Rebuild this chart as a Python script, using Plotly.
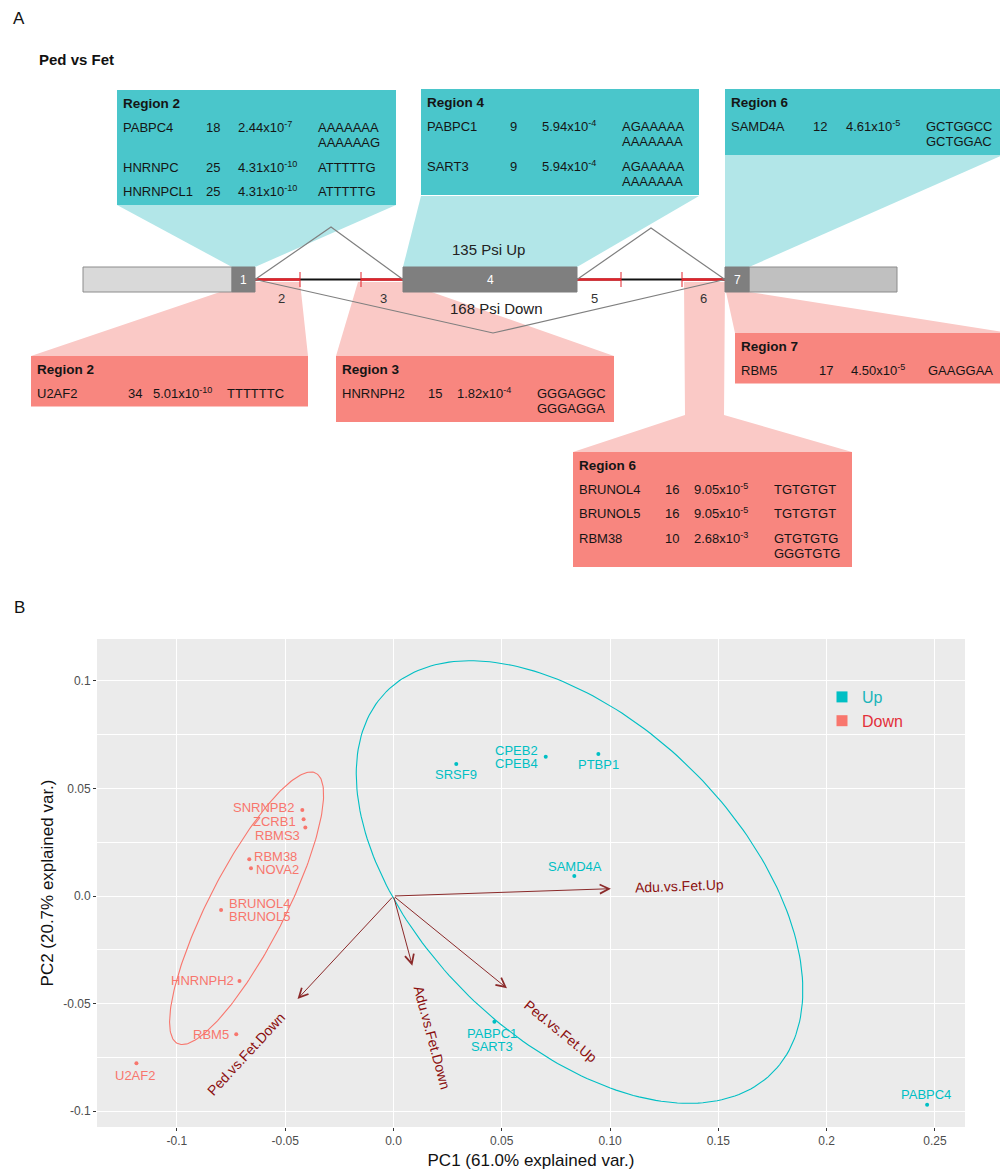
import numpy as np
import plotly.graph_objects as go

FONT = "Liberation Sans, Arial, sans-serif"

# ======================= DATA =======================
# ---- Panel A: motif enrichment tables (gene, count, p-value mantissa/exponent, motifs) ----
up_r2_genes = ["PABPC4", "HNRNPC", "HNRNPCL1"]
up_r2_counts = [18, 25, 25]
up_r2_pmant = ["2.44", "4.31", "4.31"]
up_r2_pexp = [-7, -10, -10]
up_r2_motifs = [["AAAAAAA", "AAAAAAG"], ["ATTTTTG"], ["ATTTTTG"]]

up_r4_genes = ["PABPC1", "SART3"]
up_r4_counts = [9, 9]
up_r4_pmant = ["5.94", "5.94"]
up_r4_pexp = [-4, -4]
up_r4_motifs = [["AGAAAAA", "AAAAAAA"], ["AGAAAAA", "AAAAAAA"]]

up_r6_genes = ["SAMD4A"]
up_r6_counts = [12]
up_r6_pmant = ["4.61"]
up_r6_pexp = [-5]
up_r6_motifs = [["GCTGGCC", "GCTGGAC"]]

dn_r2_genes = ["U2AF2"]
dn_r2_counts = [34]
dn_r2_pmant = ["5.01"]
dn_r2_pexp = [-10]
dn_r2_motifs = [["TTTTTTC"]]

dn_r3_genes = ["HNRNPH2"]
dn_r3_counts = [15]
dn_r3_pmant = ["1.82"]
dn_r3_pexp = [-4]
dn_r3_motifs = [["GGGAGGC", "GGGAGGA"]]

dn_r6_genes = ["BRUNOL4", "BRUNOL5", "RBM38"]
dn_r6_counts = [16, 16, 10]
dn_r6_pmant = ["9.05", "9.05", "2.68"]
dn_r6_pexp = [-5, -5, -3]
dn_r6_motifs = [["TGTGTGT"], ["TGTGTGT"], ["GTGTGTG", "GGGTGTG"]]

dn_r7_genes = ["RBM5"]
dn_r7_counts = [17]
dn_r7_pmant = ["4.50"]
dn_r7_pexp = [-5]
dn_r7_motifs = [["GAAGGAA"]]

psi_up_count = 135
psi_down_count = 168
exon_labels = ["1", "4", "7"]
intron_region_labels = ["2", "3", "5", "6"]

# ---- Panel B: PCA biplot ----
up_groups = [["SRSF9"], ["CPEB2", "CPEB4"], ["PTBP1"], ["SAMD4A"], ["PABPC1", "SART3"], ["PABPC4"]]
up_pc1 = [0.0290, 0.0703, 0.0946, 0.0835, 0.0466, 0.2464]
up_pc2 = [0.0614, 0.0647, 0.0660, 0.0093, -0.0585, -0.0971]

down_groups = [["SNRNPB2"], ["ZCRB1"], ["RBMS3"], ["RBM38"], ["NOVA2"], ["BRUNOL4", "BRUNOL5"],
               ["HNRNPH2"], ["RBM5"], ["U2AF2"]]
down_pc1 = [-0.0421, -0.0415, -0.0407, -0.0666, -0.0658, -0.0796, -0.0711, -0.0726, -0.1187]
down_pc2 = [0.0400, 0.0357, 0.0319, 0.0171, 0.0129, -0.0065, -0.0395, -0.0643, -0.0778]

loading_names = ["Adu.vs.Fet.Up", "Adu.vs.Fet.Down", "Ped.vs.Fet.Up", "Ped.vs.Fet.Down"]
loading_pc1 = [0.1004, 0.0087, 0.0524, -0.0443]
loading_pc2 = [0.0034, -0.0324, -0.0429, -0.0479]

x_tickvals = [-0.1, -0.05, 0.0, 0.05, 0.10, 0.15, 0.2, 0.25]
x_ticktext = ["-0.1", "-0.05", "0.0", "0.05", "0.10", "0.15", "0.2", "0.25"]
y_tickvals = [-0.1, -0.05, 0.0, 0.05, 0.1]
y_ticktext = ["-0.1", "-0.05", "0.0", "0.05", "0.1"]
ellipse_prob = 0.68

# ======================= STYLE / LAYOUT =======================
OFF = 8                  # the page body margin
W, H = 1008 - OFF, 1173 - OFF


def px_x(p):  # page pixel -> paper x
    return (p - OFF) / W


def px_y(p):  # page pixel -> paper y
    return 1 - (p - OFF) / H


TEAL_BOX = "#4AC6CB"
TEAL_FAN = "#B2E6E8"
PINK_BOX = "#F8867F"
PINK_FAN = "#FAC9C6"
TXT = "#151515"
UP_COL = "#00BFC4"
DOWN_COL = "#F8766D"
ARROW_COL = "#8B2A2A"
LABEL_COL = "#8B1010"

shapes = []
annots = []


def add_poly(pts, fill):
    path = "M" + "L".join(f"{x},{y}" for x, y in pts) + "Z"
    shapes.append(dict(type="path", path=path, xref="x2", yref="y2", fillcolor=fill,
                       line=dict(color=fill, width=0), layer="below"))


def add_rect(x0, y0, x1, y1, fill, line=None, width=0):
    shapes.append(dict(type="rect", x0=x0, y0=y0, x1=x1, y1=y1, xref="x2", yref="y2",
                       fillcolor=fill, line=dict(color=line or fill, width=width), layer="below"))


def add_path(pts, color, width):
    path = "M" + "L".join(f"{x},{y}" for x, y in pts)
    shapes.append(dict(type="path", path=path, xref="x2", yref="y2",
                       line=dict(color=color, width=width), layer="below"))


def add_text(x, y, s, size=13, color=TXT, xanchor="left", bold=False, yanchor="middle"):
    if bold:
        s = f"<b>{s}</b>"
    annots.append(dict(x=x, y=y, xref="x2", yref="y2", text=s, showarrow=False,
                       xanchor=xanchor, yanchor=yanchor, borderpad=0,
                       font=dict(family=FONT, size=size, color=color)))


HEAD_DY, ROW1_DY, LINE_DY, ROW_DY, BOTTOM_PAD = 14, 38, 15.5, 24.5, 12.5
BASE_OFF = 7.5  # centre -> bottom of text box


def add_region_box(left, top, width, count_cx, title, genes, counts, pmant, pexp, motifs, fill,
                   p_dx=120, motif_dx=200):
    ys = []
    y = top + ROW1_DY
    for m in motifs:
        ys.append(y)
        y += (len(m) - 1) * LINE_DY + ROW_DY
    bottom = ys[-1] + (len(motifs[-1]) - 1) * LINE_DY + BOTTOM_PAD
    add_rect(left, top, left + width, bottom, fill)
    add_text(left + 5, top + HEAD_DY + BASE_OFF, title, size=13.5, bold=True, yanchor="bottom")
    for g, c, pm, pe, m, yy in zip(genes, counts, pmant, pexp, motifs, ys):
        add_text(left + 5, yy + BASE_OFF, g, yanchor="bottom")
        add_text(left + count_cx, yy + BASE_OFF, str(c), xanchor="center", yanchor="bottom")
        add_text(left + p_dx, yy + BASE_OFF, f"{pm}x10<sup>{pe}</sup>", yanchor="bottom")
        for i, line in enumerate(m):
            add_text(left + motif_dx, yy + i * LINE_DY + BASE_OFF, line, yanchor="bottom")


# ---------------- Panel A ----------------
EX_T, EX_B, LY = 267, 292, 279.5

# connecting fans (light)
add_poly([(117, 205), (396, 205), (255, EX_T), (232, EX_T)], TEAL_FAN)
add_poly([(421, 196), (699, 196), (577, EX_T), (403, EX_T)], TEAL_FAN)
add_poly([(725, 155), (1003, 155), (749, EX_T), (725, EX_T)], TEAL_FAN)
add_poly([(220, EX_B), (255, EX_B), (255, 282), (300, 282), (308, 356), (31, 356)], PINK_FAN)
add_poly([(358, 282), (403, 282), (614, 356), (336, 356)], PINK_FAN)
add_poly([(684, 282), (725, 282), (724, 415), (852, 452), (573, 452), (685, 415)], PINK_FAN)
add_poly([(726, EX_B), (749, EX_B), (1010, 333), (735, 333)], PINK_FAN)

# region boxes
add_region_box(117, 90, 279, 96, "Region 2", up_r2_genes, up_r2_counts, up_r2_pmant, up_r2_pexp, up_r2_motifs, TEAL_BOX)
add_region_box(421, 89, 278, 92, "Region 4", up_r4_genes, up_r4_counts, up_r4_pmant, up_r4_pexp, up_r4_motifs, TEAL_BOX)
add_region_box(725, 89, 278, 95, "Region 6", up_r6_genes, up_r6_counts, up_r6_pmant, up_r6_pexp, up_r6_motifs, TEAL_BOX)
add_region_box(31, 356, 277, 104, "Region 2", dn_r2_genes, dn_r2_counts, dn_r2_pmant, dn_r2_pexp, dn_r2_motifs, PINK_BOX,
               p_dx=121, motif_dx=195)
add_region_box(336, 356, 278, 99, "Region 3", dn_r3_genes, dn_r3_counts, dn_r3_pmant, dn_r3_pexp, dn_r3_motifs, PINK_BOX)
add_region_box(573, 452, 279, 99, "Region 6", dn_r6_genes, dn_r6_counts, dn_r6_pmant, dn_r6_pexp, dn_r6_motifs, PINK_BOX)
add_region_box(735, 333, 280, 91, "Region 7", dn_r7_genes, dn_r7_counts, dn_r7_pmant, dn_r7_pexp, dn_r7_motifs, PINK_BOX,
               p_dx=115, motif_dx=192)

# introns: black line with red flanking segments and tick marks
RED = "#E3232B"
for x0, xa, xb, x1 in [(255, 300, 361, 403), (577, 621, 682, 725)]:
    add_path([(x0, LY), (x1, LY)], "#111111", 2)
    add_path([(x0, LY), (xa, LY)], RED, 2.5)
    add_path([(xb, LY), (x1, LY)], RED, 2.5)
    for xt in (xa, xb):
        add_path([(xt, 272), (xt, 287)], RED, 1)

# junction lines
add_path([(255, LY), (331, 227), (403, LY)], "#7F7F7F", 1.2)
add_path([(577, LY), (651, 228), (725, LY)], "#7F7F7F", 1.2)
add_path([(255, LY), (493, 333), (725, LY)], "#7F7F7F", 1.2)

# exons
add_rect(83, EX_T, 232, EX_B, "#D9D9D9", "#8C8C8C", 1)
add_rect(232, EX_T, 255, EX_B, "#7F7F7F", "#7F7F7F", 1)
add_rect(403, EX_T, 577, EX_B, "#7F7F7F", "#7F7F7F", 1)
add_rect(749, EX_T, 897, EX_B, "#C0C0C0", "#8C8C8C", 1)
add_rect(725, EX_T, 749, EX_B, "#7F7F7F", "#7F7F7F", 1)
for lab, xc in zip(exon_labels, [243.5, 490, 737]):
    add_text(xc, LY, lab, size=12, color="white", xanchor="center")
for lab, xc in zip(intron_region_labels, [281, 383, 594, 703]):
    add_text(xc, 298, lab, size=13, color="#333333", xanchor="center")

add_text(488, 249, f"{psi_up_count} Psi Up", size=15, color="#222222", xanchor="center")
add_text(496, 308, f"{psi_down_count} Psi Down", size=15, color="#222222", xanchor="center")

add_text(12, 18, "A", size=17, color="#111111")
add_text(38, 59, "Ped vs Fet", size=15, color="#111111", bold=True)

# ---------------- Panel B ----------------
fig = go.Figure()


def ellipse_xy(groups, xs, ys, prob, n=240):
    w = [len(g) for g in groups]
    x = np.repeat(np.array(xs), w)
    y = np.repeat(np.array(ys), w)
    mu = np.array([x.mean(), y.mean()])
    sigma = np.cov(np.vstack([x, y]))
    chol = np.linalg.cholesky(sigma).T
    ed = np.sqrt(-2.0 * np.log(1.0 - prob))
    t = np.linspace(-np.pi, np.pi, n)
    circ = np.column_stack([np.cos(t), np.sin(t)])
    pts = circ @ chol * ed + mu
    return pts[:, 0], pts[:, 1]


for groups, xs, ys, col in [(up_groups, up_pc1, up_pc2, UP_COL), (down_groups, down_pc1, down_pc2, DOWN_COL)]:
    ex, ey = ellipse_xy(groups, xs, ys, ellipse_prob)
    fig.add_trace(go.Scatter(x=ex, y=ey, mode="lines", line=dict(color=col, width=1.1),
                             showlegend=False, hoverinfo="skip", xaxis="x", yaxis="y"))

for groups, xs, ys, col in [(up_groups, up_pc1, up_pc2, UP_COL), (down_groups, down_pc1, down_pc2, DOWN_COL)]:
    fig.add_trace(go.Scatter(x=xs, y=ys, mode="markers", text=["/".join(g) for g in groups],
                             marker=dict(size=4, color=col), showlegend=False,
                             xaxis="x", yaxis="y"))

# label placement relative to each point: (xanchor, x shift px, y shift px of block centre)
up_label_place = [("center", 0, -11), ("right", -6.5, 0), ("center", 0, -10), ("center", 1, 10),
                  ("center", -2, -18.5), ("center", -1, 10.5)]
down_label_place = [("right", -7, 2), ("right", -6.5, -2.4), ("right", -4.3, -7.7), ("left", 3.7, 3),
                    ("left", 4, -1), ("left", 7, 0), ("right", -4.5, 0), ("right", -6.3, 0),
                    ("center", -1, -11.7)]
LINE_GAP = 12.7
for groups, xs, ys, col, places in [(up_groups, up_pc1, up_pc2, UP_COL, up_label_place),
                                    (down_groups, down_pc1, down_pc2, DOWN_COL, down_label_place)]:
    for g, x, y, (xa, dx, dy) in zip(groups, xs, ys, places):
        n = len(g)
        for i, name in enumerate(g):
            line_dy = dy + ((n - 1) / 2 - i) * LINE_GAP
            annots.append(dict(x=x, y=y, xref="x", yref="y", text=name, showarrow=False,
                               xanchor=xa, yanchor="middle", xshift=dx, yshift=line_dy,
                               borderpad=0, font=dict(family=FONT, size=13, color=col)))

# legend entries
for name, col, tcol in [("Up", UP_COL, "#1BB5BA"), ("Down", DOWN_COL, "#E3303A")]:
    fig.add_trace(go.Scatter(x=[None], y=[None], mode="markers",
                             marker=dict(symbol="square", size=11, color=col),
                             name=f'<span style="color:{tcol}">{name}</span>',
                             showlegend=True, xaxis="x", yaxis="y"))

# loading arrows + labels
PX_PER_UNIT = 2160.0
for name, lx, ly in zip(loading_names, loading_pc1, loading_pc2):
    annots.append(dict(x=lx, y=ly, ax=0, ay=0, xref="x", yref="y", axref="x", ayref="y",
                       text="", showarrow=True, arrowhead=5, arrowsize=1.8, arrowwidth=1,
                       arrowcolor=ARROW_COL, standoff=0, startstandoff=0))
    d = np.hypot(lx, ly)
    dist = (23 + len(name) * 3.5) / PX_PER_UNIT
    cx, cy = lx + lx / d * dist, ly + ly / d * dist
    ang = -np.degrees(np.arctan(ly / lx))
    annots.append(dict(x=cx, y=cy, xref="x", yref="y", text=name, showarrow=False,
                       textangle=ang, xanchor="center", yanchor="middle",
                       font=dict(family=FONT, size=14, color=LABEL_COL)))

annots.append(dict(x=px_x(12), y=px_y(607), xref="paper", yref="paper", text="B",
                   showarrow=False, xanchor="left", yanchor="middle",
                   font=dict(family=FONT, size=17, color="#111111")))

# panel B background
shapes.append(dict(type="rect", xref="x domain", yref="y domain", x0=0, x1=1, y0=0, y1=1,
                   fillcolor="#EBEBEB", line=dict(width=0), layer="below"))

fig.update_layout(
    width=W, height=H, margin=dict(l=0, r=0, t=0, b=0),
    paper_bgcolor="white", plot_bgcolor="rgba(0,0,0,0)",
    shapes=shapes, annotations=annots,
    showlegend=True,
    legend=dict(x=px_x(822), y=px_y(680), xanchor="left", yanchor="top",
                bgcolor="rgba(0,0,0,0)", font=dict(family=FONT, size=16),
                itemwidth=30, tracegroupgap=0),
    xaxis=dict(domain=[px_x(97), px_x(965)], range=[-0.1369, 0.2639], anchor="y",
               tickmode="array", tickvals=x_tickvals, ticktext=x_ticktext,
               showgrid=True, gridcolor="white", gridwidth=1.2, zeroline=False,
               ticks="outside", ticklen=3, tickcolor="#333333",
               tickfont=dict(family=FONT, size=12, color="#4D4D4D"),
               title=dict(text="PC1 (61.0% explained var.)", standoff=6,
                          font=dict(family=FONT, size=17, color="#111111")),
               showline=False),
    yaxis=dict(domain=[px_y(1127), px_y(639)], range=[-0.1074, 0.1195], anchor="x",
               tickmode="array", tickvals=y_tickvals, ticktext=y_ticktext,
               showgrid=True, gridcolor="white", gridwidth=1.2, zeroline=False,
               minor=dict(tickvals=[-0.075, -0.025, 0.025, 0.075], showgrid=True,
                          gridcolor="white", gridwidth=0.6, ticks=""),
               ticks="outside", ticklen=3, tickcolor="#333333",
               tickfont=dict(family=FONT, size=12, color="#4D4D4D"),
               title=dict(text="PC2 (20.7% explained var.)", standoff=5,
                          font=dict(family=FONT, size=17, color="#111111")),
               showline=False),
    xaxis2=dict(domain=[0, 1], range=[OFF, 1008], anchor="y2", visible=False, fixedrange=True),
    yaxis2=dict(domain=[px_y(590), 1], range=[590, OFF], anchor="x2", visible=False, fixedrange=True),
)

fig.write_html("out.html")
